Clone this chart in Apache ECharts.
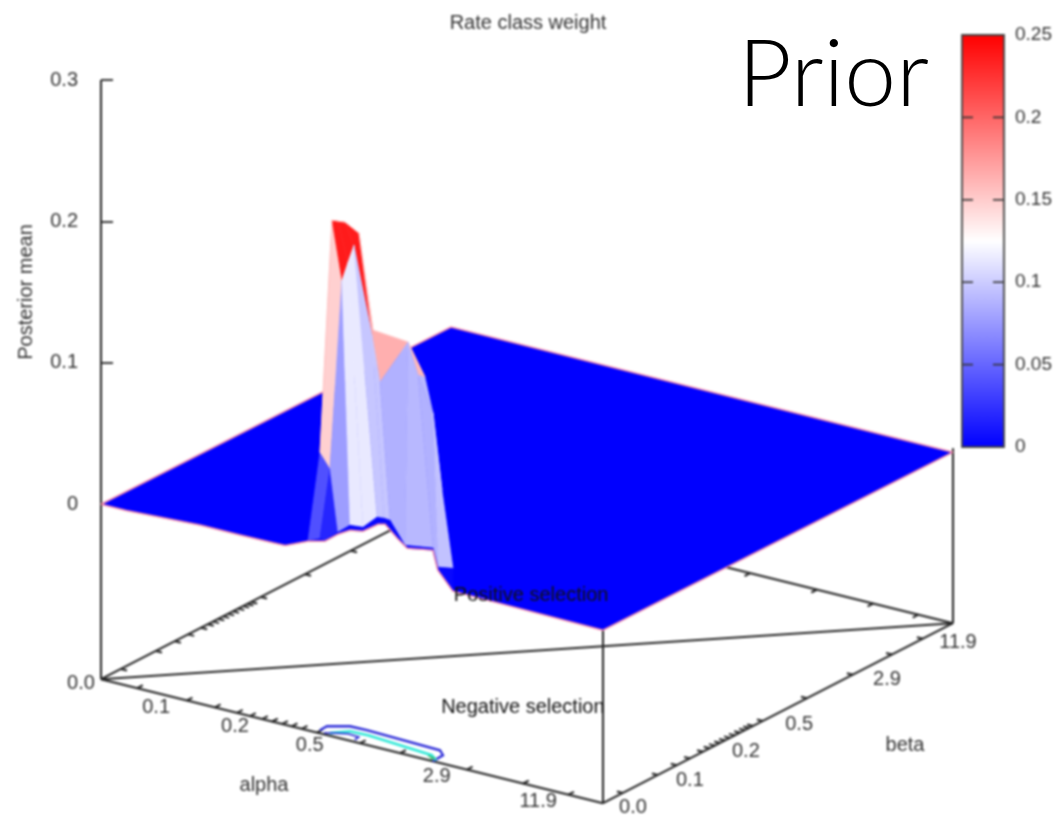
<!DOCTYPE html>
<html><head><meta charset="utf-8">
<style>
html,body{margin:0;padding:0;background:#fff}
#main,#top{position:absolute;left:0;top:0;width:1055px;height:815px}
#main{filter:blur(1px)}
#top{pointer-events:none}
</style>
<script src="https://cdn.jsdelivr.net/npm/echarts@6/dist/echarts.min.js"></script>
</head><body>
<div id="main"></div><div id="top"></div>
<script>
// ---------- data ----------
const chartTitle = 'Rate class weight';
const zAxisName = 'Posterior mean';
const alphaName = 'alpha';
const betaName = 'beta';
const annotations = [
  {text:'Positive selection', a:0.359, b:0.714},
  {text:'Negative selection', a:0.641, b:0.286}
];
const zTicks = [0, 0.1, 0.2, 0.3];
const colorTicks = [0.05, 0.1, 0.15, 0.2];
const colorMax = 0.25;
const alphaTickRanks = [0.072,0.171,0.227,0.271,0.297,0.321,0.341,0.361,0.38,0.40,0.43,0.516,0.596,0.729,0.841,0.931];
const betaTickRanks  = [0.057,0.157,0.211,0.249,0.286,0.305,0.32,0.335,0.349,0.363,0.377,0.392,0.406,0.418,0.429,0.457,0.583,0.714,0.826,0.914];
const alphaLabels = ['0.1','0.2','0.5','2.9','11.9'];
const alphaLabelRanks = [0.072,0.229,0.378,0.631,0.833];
const betaLabels = ['0.0','0.1','0.2','0.5','2.9','11.9'];
const betaLabelRanks = [0,0.154,0.314,0.466,0.717,0.92];

// rows of the surface, front to back: beta rank, then alpha rank and height per column
const rowBeta = [0, 0.004, 0.02, 0.04];
const row0Alpha = [.446,.472,.496,.522,.552,.566,.590,.610,.661,.671,.701];
const row0Z     = [.0129,.0202,.0251,.0267,.0342,.0354,.0277,.0223,.0255,.0122,0];
const row1Alpha = [.4434,.4693,.4932,.5191,.547,.561,.5729,.6028,.6586,.6686,.6984];
const row1Z     = [.0129,.0209,.0279,.0287,.0383,.0388,.0384,.0233,.0262,.0136,.0154];
const row2Alpha = [.4223,.4422,.4661,.4781,.49,.5259,.5418,.5976,.6175,.6474,.6653];
const row2Z     = [.0105,.0617,.1967,.2105,.2236,.1631,.1313,.1644,.1429,.1186,.0657];
const row3Alpha = [.3845,.4084,.4323,.4442,.4582,.4861,.5139,.5837,.6175,.6335,.6514];
const row3Z     = [.0032,.0675,.2336,.234,.2345,.2291,.163,.1607,.1389,.1148,.0619];
// rate class weight (colour) of each strip between neighbouring columns
const weight01 = [.004,.004,.004,.004,.004,.004,.004,.004,.004,.004];
const weight12 = [.018,.077,.114,.114,.097,.097,.087,.09,.087,.095];
const weight23 = [.039,.148,.237,.237,.237,.17,.164,.16,.09,.09];
// front edge left of the ridge and the flat plane's corners
const edgeAlpha = [0,.05,.197,.277,.347,.367,.412];
const edgeZ     = [0,0,.0025,.0025,.0028,.003,.01];
const planeCornerZ = [-.0014,-.0028,-.002]; // (1,0), (1,1), (0,1)
// contours on the base
const contourBlueAlpha = [.428,.427,.458,.491,.642,.659,.661];
const contourBlueBeta  = [.0116,.0331,.0544,.0552,.0478,.0318,0];
const contourCyanAlpha = [.449,.471,.506,.644,.663];
const contourCyanBeta  = [.0096,.0357,.0373,.0216,.0066];
const contourNavyAlpha = [.44,.475,.498,.50];
const contourNavyBeta  = [.006,.024,.022,.008];
const contourGreenAlpha = [.64,.655,.652];
const contourGreenBeta  = [.016,.012,.004];

// ---------- oblique projection into the axes' units ----------
const SX_A = 502, SX_B = 350, SY_A = 124, SY_B = -180, SZ = 1414, Z_BASE = -0.12376;
const project = (a,b,z) => [SX_A*a + SX_B*b, z - (SY_A*a + SY_B*b)/SZ];
const FONT = '"Liberation Sans", Arial, sans-serif';
const TEXT = '#333';
const STOPS = ['#0000ff','#ffffff','#ff0000'];
const colorOf = v => echarts.color.lerp(Math.min(1,Math.max(0,v/colorMax)), STOPS, false);

// ---------- geometry built from the arrays ----------
const frame = [
  [[0,0,Z_BASE],[1,0,Z_BASE]], [[1,0,Z_BASE],[1,1,Z_BASE]],
  [[0,0,Z_BASE],[0,1,Z_BASE]], [[0,1,Z_BASE],[1,1,Z_BASE]],
  [[0,0,Z_BASE],[1,1,Z_BASE]],
  [[0,0,Z_BASE],[0,0,zTicks[3]]],
  [[1,0,Z_BASE],[1,0,0]], [[1,1,Z_BASE],[1,1,0]]
];
alphaTickRanks.forEach(a=>{
  frame.push([[a,0,Z_BASE],[a,0.016,Z_BASE]]);
  frame.push([[a,1,Z_BASE],[a,0.984,Z_BASE]]);
});
betaTickRanks.forEach(b=>{
  frame.push([[1,b,Z_BASE],[0.988,b,Z_BASE]]);
  frame.push([[0,b,Z_BASE],[0.012,b,Z_BASE]]);
});

const rows = [[row0Alpha,row0Z],[row1Alpha,row1Z],[row2Alpha,row2Z],[row3Alpha,row3Z]];
const vertex = (r,c) => [rows[r][0][c], rowBeta[r], rows[r][1][c]];
const strip = (lo,hi,weights) => weights.map((w,c)=>({
  pts:[vertex(lo,c),vertex(lo,c+1),vertex(hi,c+1),vertex(hi,c)], val:w }));
const edgePts = edgeAlpha.map((a,i)=>[a,0,edgeZ[i]]).concat(row0Alpha.map((a,i)=>[a,0,row0Z[i]]));
const cornerF = [1,0,planeCornerZ[0]], cornerR = [1,1,planeCornerZ[1]], cornerB = [0,1,planeCornerZ[2]], cornerL = [0,0,0];
const EDGE = '#ff90a8';
const faces = [{pts:edgePts.concat([cornerF,cornerR,cornerB]),val:0},
  {line:[cornerR,cornerB,cornerL],color:EDGE,w:1.5},
  {line:[cornerF,cornerR],color:EDGE,w:1.5}]
  .concat(strip(2,3,weight23))
  .concat([{line:row3Alpha.map((a,i)=>[a,rowBeta[3],row3Z[i]]).slice(1,9),color:'#ffc0c0',w:1}])
  .concat(strip(1,2,weight12)).concat(strip(0,1,weight01))
  .concat([{line:edgePts.concat([cornerF]),color:EDGE,w:1.5}]);
const contours = [
  {a:contourBlueAlpha,b:contourBlueBeta,color:'#2a2ad8',w:2.4},
  {a:contourCyanAlpha,b:contourCyanBeta,color:'#30e8d8',w:2.6},
  {a:contourNavyAlpha,b:contourNavyBeta,color:'#2020d0',w:1.6},
  {a:contourGreenAlpha,b:contourGreenBeta,color:'#30b060',w:1.4}
];
const texts = [];
alphaLabels.forEach((t,i)=>texts.push({text:t,p:[alphaLabelRanks[i],0,Z_BASE],dx:19,dy:19}));
texts.push({text:'0.0',p:[0,0,Z_BASE],dx:-20,dy:4});
betaLabels.forEach((t,i)=>texts.push({text:t,p:[1,betaLabelRanks[i],Z_BASE],dx:i?33:30,dy:i?5:4}));
texts.push({text:alphaName,p:[0.4967,-0.2467,Z_BASE],dx:0,dy:0});
texts.push({text:betaName,p:[1.2546,0.4976,Z_BASE],dx:0,dy:0});
annotations.forEach(n=>texts.push({text:n.text,p:[n.a,n.b,Z_BASE],dx:0,dy:0,color:'#111'}));

const px = (api,p) => api.coord(project(p[0],p[1],p[2]));
const indexData = arr => arr.map((_,i)=>[i,0]);

const option = {
  backgroundColor:'#fff',
  animation:false,
  title:{text:chartTitle,left:523,top:8,textAlign:'center',
    textStyle:{fontFamily:FONT,fontSize:20,fontWeight:'normal',color:TEXT}},
  graphic:[{type:'text',x:26,y:292,rotation:Math.PI/2,
    style:{text:zAxisName,fontFamily:FONT,fontSize:20,fill:TEXT,align:'center',verticalAlign:'middle'}}],
  grid:[
    {left:101,top:80,width:852,height:723,show:false},
    {left:962,top:35,width:43,height:412,show:true,borderColor:'#444',borderWidth:1.8,backgroundColor:'transparent',z:8}
  ],
  xAxis:[
    {type:'value',gridIndex:0,min:0,max:852,show:false},
    {type:'value',gridIndex:1,min:0,max:1,show:false}
  ],
  yAxis:[
    {type:'value',gridIndex:0,min:-0.2113,max:0.3,position:'left',splitLine:{show:false},
     axisLine:{show:false},
     axisTick:{show:true,inside:true,length:12,customValues:zTicks,lineStyle:{color:'#222',width:1.8}},
     axisLabel:{show:true,margin:23,customValues:zTicks,fontFamily:FONT,fontSize:20,color:TEXT,
       formatter:v=>String(v)}},
    {type:'value',gridIndex:1,min:0,max:colorMax,interval:0.05,position:'right',splitLine:{show:false},
     axisLine:{show:false},axisTick:{show:false},
     axisLabel:{margin:11,fontFamily:FONT,fontSize:19,color:TEXT,formatter:v=>String(+v.toFixed(2))}}
  ],
  series:[
    {type:'custom',name:'colorbar',xAxisIndex:1,yAxisIndex:1,z:2,silent:true,data:[[0,0]],
     renderItem:(p,api)=>{
       const a=api.coord([0,colorMax]),b=api.coord([1,0]);
       return {type:'rect',shape:{x:a[0],y:a[1],width:b[0]-a[0],height:b[1]-a[1]},
         style:{fill:new echarts.graphic.LinearGradient(0,1,0,0,
           STOPS.map((c,i)=>({offset:i/(STOPS.length-1),color:c})))}};
     }},
    {type:'custom',name:'colorbar ticks',xAxisIndex:1,yAxisIndex:1,z:3,silent:true,data:colorTicks.map(v=>[v,v]),
     renderItem:(p,api)=>{
       const v=api.value(0),a=api.coord([0,v]),b=api.coord([1,v]);
       const st={stroke:'#333',lineWidth:1.6};
       return {type:'group',children:[
         {type:'line',shape:{x1:a[0],y1:a[1],x2:a[0]+11,y2:a[1]},style:st},
         {type:'line',shape:{x1:b[0]-11,y1:b[1],x2:b[0],y2:b[1]},style:st}]};
     }},
    {type:'custom',name:'frame',xAxisIndex:0,yAxisIndex:0,z:2,silent:true,data:indexData(frame),
     renderItem:(p,api)=>{
       const s=frame[api.value(0)],m=px(api,s[0]),n=px(api,s[1]);
       return {type:'line',shape:{x1:m[0],y1:m[1],x2:n[0],y2:n[1]},style:{stroke:'#222',lineWidth:2}};
     }},
    {type:'custom',name:'contours',xAxisIndex:0,yAxisIndex:0,z:3,silent:true,data:indexData(contours),
     renderItem:(p,api)=>{
       const c=contours[api.value(0)];
       return {type:'polyline',shape:{points:c.a.map((a,i)=>px(api,[a,c.b[i],Z_BASE]))},
         style:{stroke:c.color,lineWidth:c.w,fill:null}};
     }},
    {type:'custom',name:'surface',xAxisIndex:0,yAxisIndex:0,z:4,silent:true,data:indexData(faces),
     renderItem:(p,api)=>{
       const f=faces[api.value(0)];
       if(f.line) return {type:'polyline',shape:{points:f.line.map(q=>px(api,q))},
         style:{stroke:f.color,lineWidth:f.w,fill:null}};
       const col=colorOf(f.val);
       return {type:'polygon',shape:{points:f.pts.map(q=>px(api,q))},
         style:{fill:col,stroke:col,lineWidth:0.6}};
     }},
    {type:'custom',name:'labels',xAxisIndex:0,yAxisIndex:0,z:6,silent:true,data:indexData(texts),
     renderItem:(p,api)=>{
       const t=texts[api.value(0)],m=px(api,t.p);
       return {type:'text',x:m[0]+t.dx,y:m[1]+t.dy,
         style:{text:t.text,fill:t.color||TEXT,fontFamily:FONT,fontSize:20,align:'center',verticalAlign:'middle'}};
     }}
  ]
};
echarts.init(document.getElementById('main'),null,{renderer:'canvas'}).setOption(option);

echarts.init(document.getElementById('top'),null,{renderer:'canvas'}).setOption({
  animation:false,
  title:{text:'Prior',left:733,top:24,
    textStyle:{fontFamily:'Lato',fontSize:93,fontWeight:300,color:'#000'}}
});
</script>
</body></html>
